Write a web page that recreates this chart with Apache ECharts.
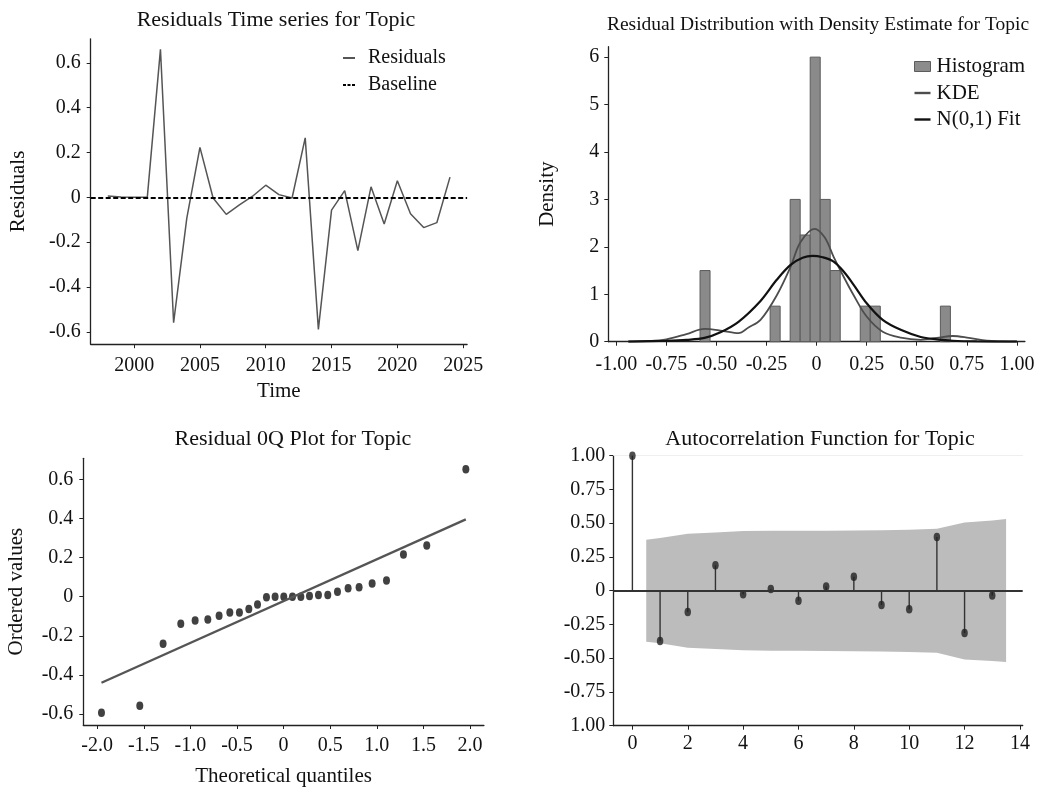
<!DOCTYPE html>
<html>
<head>
<meta charset="utf-8">
<title>Residual diagnostics for Topic</title>
<script src="https://cdn.jsdelivr.net/npm/echarts@6.0.0/dist/echarts.min.js"></script>
<style>
html,body{margin:0;padding:0;background:#fff;}
#main{width:1046px;height:788px;}
</style>
</head>
<body>
<div id="main"></div>
<script>
// residuals by year (top left)
var years = [1998,1999,2000,2001,2002,2003,2004,2005,2006,2007,2008,2009,2010,2011,2012,2013,2014,2015,2016,2017,2018,2019,2020,2021,2022,2023,2024];
var residuals = [0.006,0.002,0.0,0.0,0.66,-0.559,-0.094,0.223,-0.003,-0.076,-0.034,0.005,0.054,0.012,-0.003,0.265,-0.589,-0.057,0.03,-0.238,0.047,-0.119,0.074,-0.073,-0.135,-0.113,0.09];
var yearTicks = [2000,2005,2010,2015,2020,2025];
var residTicks = [-0.6,-0.4,-0.2,0,0.2,0.4,0.6];

// histogram + curves (top right)
var binStart = [-0.582,-0.232,-0.132,-0.082,-0.032,0.018,0.068,0.218,0.268,0.618];
var binWidth = 0.05;
var binDensity = [1.5,0.75,3,2.25,6,3,1.5,0.75,0.75,0.75];
var kdeX = [-0.94,-0.85,-0.75,-0.65,-0.56,-0.47,-0.39,-0.34,-0.28,-0.2,-0.13,-0.08,-0.01,0.04,0.085,0.135,0.185,0.25,0.33,0.42,0.52,0.6,0.68,0.76,0.85,0.93,1.0];
var kdeY = [0.0,0.01,0.05,0.16,0.27,0.23,0.18,0.3,0.46,0.97,1.58,2.1,2.38,2.2,1.79,1.37,0.98,0.53,0.21,0.085,0.04,0.08,0.12,0.08,0.02,0.005,0.0];
var normX = [-0.94,-0.75,-0.65,-0.56,-0.48,-0.39,-0.28,-0.2,-0.13,-0.07,-0.02,0.03,0.085,0.135,0.185,0.25,0.33,0.42,0.52,0.6,0.68,0.8,1.0];
var normY = [0.0,0.02,0.04,0.08,0.2,0.42,0.86,1.3,1.62,1.77,1.81,1.78,1.69,1.48,1.2,0.81,0.46,0.25,0.1,0.05,0.02,0.005,0.0];
var densXTicks = [-1,-0.75,-0.5,-0.25,0,0.25,0.5,0.75,1];
var densYTicks = [0,1,2,3,4,5,6];

// QQ plot (bottom left)
var qqTheo = [-1.954,-1.543,-1.293,-1.103,-0.949,-0.813,-0.692,-0.577,-0.474,-0.373,-0.28,-0.184,-0.091,0.002,0.095,0.185,0.278,0.374,0.474,0.578,0.692,0.81,0.95,1.104,1.286,1.536,1.955];
var qqOrdered = [-0.592,-0.557,-0.24,-0.138,-0.121,-0.116,-0.097,-0.08,-0.08,-0.063,-0.039,-0.003,0,0,0,0,0.004,0.009,0.009,0.026,0.043,0.048,0.068,0.083,0.216,0.262,0.651];
var qqLineX = [-1.954,1.955];
var qqLineY = [-0.439,0.395];
var qqXTicks = [-2,-1.5,-1,-0.5,0,0.5,1,1.5,2];

// ACF (bottom right)
var acfLags = [0,1,2,3,4,5,6,7,8,9,10,11,12,13];
var acfValues = [1.0,-0.373,-0.158,0.188,-0.027,0.012,-0.074,0.032,0.104,-0.106,-0.138,0.398,-0.314,-0.035];
var bandLags = [0.5,1,2,3,4,5,6,7,8,9,10,11,12,13,13.5];
var bandUpper = [0.378,0.39,0.422,0.432,0.442,0.444,0.444,0.445,0.446,0.447,0.452,0.459,0.506,0.52,0.531];
var bandLower = [-0.378,-0.39,-0.422,-0.432,-0.442,-0.444,-0.445,-0.447,-0.449,-0.451,-0.454,-0.459,-0.509,-0.521,-0.528];
var acfXTicks = [0,2,4,6,8,10,12,14];
var acfYTicks = [1,0.75,0.5,0.25,0,-0.25,-0.5,-0.75,-1];
var acfYLabels = ['1.00','0.75','0.50','0.25','0','-0.25','-0.50','-0.75','1.00'];

var FONT = '"Liberation Serif", "Times New Roman", serif';
// legend glyphs
var ICON_LINE_SMALL = 'path://M0,0 L12,0 L12,2 L0,2 Z';
var ICON_DASH_SMALL = 'path://M0,0 L3,0 L3,2 L0,2 Z M4.5,0 L7.5,0 L7.5,2 L4.5,2 Z M9,0 L12,0 L12,2 L9,2 Z';
var ICON_LINE_WIDE = 'path://M0,0 M0,3.8 L16,3.8 L16,6.2 L0,6.2 Z M16,10';

(function(){
	var Diagnostics = function(){
		this.init();
	};
	var p = Diagnostics.prototype;

	p.init = function(){
		this.chart = echarts.init(document.getElementById('main'), null, {renderer: 'canvas'});
		this.chart.setOption(this.buildOption());
	};

	p.fixed = function(d){
		return function(v){
			return Math.abs(v) < 1e-9 ? '0' : v.toFixed(d);
		};
	};

	p.axis = function(grid, min, max, ticks, fmt, margin){
		return {
			type: 'value', gridIndex: grid, min: min, max: max,
			splitLine: {show: false},
			axisLine: {show: true, onZero: false, lineStyle: {color: '#222', width: 1.3}},
			axisTick: {show: true, inside: false, length: 4, customValues: ticks, lineStyle: {color: '#222', width: 1}},
			axisLabel: {show: true, customValues: ticks, formatter: fmt, margin: margin, hideOverlap: false,
				fontFamily: FONT, fontSize: 20, color: '#111'},
			nameTextStyle: {fontFamily: FONT, fontSize: 21, color: '#111'}
		};
	};

	p.title = function(text, x, y, size){
		return {text: text, left: x, top: y, textAlign: 'center',
			textStyle: {fontFamily: FONT, fontSize: size, fontWeight: 'normal', color: '#111'}};
	};

	p.buildOption = function(){
		var x0 = this.axis(0, 1996.7, 2025.3, yearTicks, function(v){ return String(v); }, 12);
		x0.name = 'Time'; x0.nameLocation = 'middle'; x0.nameGap = 37;
		var y0 = this.axis(0, -0.655, 0.707, residTicks, this.fixed(1), 10);
		y0.name = 'Residuals'; y0.nameLocation = 'middle'; y0.nameGap = 62; y0.nameRotate = 90;

		var x1 = this.axis(1, -1.04, 1.04, densXTicks, this.fixed(2), 13);
		var y1 = this.axis(1, 0, 6.22, densYTicks, function(v){ return String(v); }, 9);
		y1.name = 'Density'; y1.nameLocation = 'middle'; y1.nameGap = 50; y1.nameRotate = 90;

		var x2 = this.axis(2, -2.149, 2.149, qqXTicks, this.fixed(1), 11);
		x2.name = 'Theoretical quantiles'; x2.nameLocation = 'middle'; x2.nameGap = 41;
		var y2 = this.axis(2, -0.655, 0.707, residTicks, this.fixed(1), 10);
		y2.name = 'Ordered values'; y2.nameLocation = 'middle'; y2.nameGap = 56; y2.nameRotate = 90;

		var x3 = this.axis(3, -0.69, 14.1, acfXTicks, function(v){ return String(v); }, 8);
		var y3 = this.axis(3, -1, 1, acfYTicks, function(v){
			for (var i = 0; i < acfYTicks.length; i++) {
				if (Math.abs(v - acfYTicks[i]) < 1e-6) return acfYLabels[i];
			}
			return '';
		}, 8);
		// faint top frame line of the acf panel
		var x4 = {type: 'value', gridIndex: 3, position: 'top', min: -0.69, max: 14.1,
			axisLine: {show: true, onZero: false, lineStyle: {color: '#efefef', width: 1}},
			axisTick: {show: false}, axisLabel: {show: false}, splitLine: {show: false}};

		var histRows = binStart.map(function(s, i){ return [s, s + binWidth, binDensity[i]]; });

		return {
			animation: false,
			backgroundColor: '#fff',
			textStyle: {fontFamily: FONT},
			title: [
				this.title('Residuals Time series for Topic', 271, 4, 22),
				this.title('Residual Distribution with Density Estimate for Topic', 813, 10, 19.5),
				this.title('Residual 0Q Plot for Topic', 288, 423, 22),
				this.title('Autocorrelation Function for Topic', 815, 423, 22)
			],
			legend: [
				{orient: 'vertical', left: 343, top: 48, padding: 0, itemWidth: 12, itemHeight: 2, itemGap: 7,
					data: [
						{name: 'Residuals', icon: ICON_LINE_SMALL},
						{name: 'Baseline', icon: ICON_DASH_SMALL}
					],
					textStyle: {fontFamily: FONT, fontSize: 20, color: '#111', padding: [0, 0, 0, 8]}},
				{orient: 'vertical', left: 914, top: 56, padding: 0, itemWidth: 16, itemHeight: 10, itemGap: 5.5,
					data: [
						{name: 'Histogram', icon: 'rect', itemStyle: {color: '#8c8c8c', borderColor: '#5c5c5c', borderWidth: 1}},
						{name: 'KDE', icon: ICON_LINE_WIDE},
						{name: 'N(0,1) Fit', icon: ICON_LINE_WIDE}
					],
					textStyle: {fontFamily: FONT, fontSize: 21, color: '#111', padding: [0, 0, 0, 1]}}
			],
			grid: [
				{left: 90.7, top: 38.8, width: 376.4, height: 305.4, outerBoundsMode: 'none'},
				{left: 608.3, top: 46.7, width: 416.6, height: 295, outerBoundsMode: 'none'},
				{left: 83.3, top: 458.3, width: 400.6, height: 266.7, outerBoundsMode: 'none'},
				{left: 613.3, top: 455.7, width: 409.4, height: 270, outerBoundsMode: 'none'}
			],
			xAxis: [x0, x1, x2, x3, x4],
			yAxis: [y0, y1, y2, y3],
			series: [
				{
					name: 'Residuals', type: 'line', xAxisIndex: 0, yAxisIndex: 0,
					data: years.map(function(y, i){ return [y, residuals[i]]; }),
					symbol: 'none', lineStyle: {color: '#555', width: 1.5}, itemStyle: {color: '#555'}
				},
				{
					name: 'Baseline', type: 'line', xAxisIndex: 0, yAxisIndex: 0, data: [],
					symbol: 'none', lineStyle: {color: '#000', width: 2, type: [5, 2.5]}, itemStyle: {color: '#000'},
					markLine: {silent: true, symbol: 'none', label: {show: false},
						lineStyle: {color: '#000', width: 2, type: [5, 2.5]},
						data: [{yAxis: 0}]}
				},
				{
					name: 'Histogram', type: 'custom', xAxisIndex: 1, yAxisIndex: 1,
					data: histRows, encode: {x: [0, 1], y: 2},
					itemStyle: {color: '#8c8c8c', borderColor: '#5c5c5c', borderWidth: 1},
					renderItem: function(params, api){
						var a = api.coord([api.value(0), api.value(2)]);
						var b = api.coord([api.value(1), 0]);
						return {type: 'rect', shape: {x: a[0], y: a[1], width: b[0] - a[0], height: b[1] - a[1]},
							style: {fill: '#8a8a8a', stroke: '#5a5a5a', lineWidth: 1}};
					}
				},
				{
					name: 'KDE', type: 'line', xAxisIndex: 1, yAxisIndex: 1, smooth: 0.35,
					data: kdeX.map(function(x, i){ return [x, kdeY[i]]; }),
					symbol: 'none', lineStyle: {color: '#4d4d4d', width: 1.8}, itemStyle: {color: '#4d4d4d'}
				},
				{
					name: 'N(0,1) Fit', type: 'line', xAxisIndex: 1, yAxisIndex: 1, smooth: 0.35,
					data: normX.map(function(x, i){ return [x, normY[i]]; }),
					symbol: 'none', lineStyle: {color: '#111', width: 2.2}, itemStyle: {color: '#111'}
				},
				{
					name: 'qq line', type: 'line', xAxisIndex: 2, yAxisIndex: 2,
					data: qqLineX.map(function(x, i){ return [x, qqLineY[i]]; }),
					symbol: 'none', lineStyle: {color: '#555', width: 2.3}
				},
				{
					name: 'qq points', type: 'scatter', xAxisIndex: 2, yAxisIndex: 2,
					data: qqTheo.map(function(x, i){ return [x, qqOrdered[i]]; }),
					symbol: 'circle', symbolSize: [7, 8.5], itemStyle: {color: '#111'}
				},
				{
					name: 'confidence band', type: 'custom', xAxisIndex: 3, yAxisIndex: 3,
					data: [[0, 0]],
					renderItem: function(params, api){
						var pts = [], i;
						for (i = 0; i < bandLags.length; i++) pts.push(api.coord([bandLags[i], bandUpper[i]]));
						for (i = bandLags.length - 1; i >= 0; i--) pts.push(api.coord([bandLags[i], bandLower[i]]));
						return {type: 'polygon', shape: {points: pts}, style: {fill: '#bcbcbc'}};
					}
				},
				{
					name: 'acf stems', type: 'bar', xAxisIndex: 3, yAxisIndex: 3, barWidth: 1.4,
					data: acfLags.map(function(l, i){ return [l, acfValues[i]]; }),
					itemStyle: {color: '#333'},
					markLine: {silent: true, symbol: 'none', label: {show: false},
						lineStyle: {color: '#333', width: 2, type: 'solid'},
						data: [{yAxis: 0}]}
				},
				{
					name: 'acf markers', type: 'scatter', xAxisIndex: 3, yAxisIndex: 3,
					data: acfLags.map(function(l, i){ return [l, acfValues[i]]; }),
					symbol: 'circle', symbolSize: [6.5, 8.5], itemStyle: {color: '#222'}
				}
			]
		};
	};

	new Diagnostics();
})();
</script>
</body>
</html>
